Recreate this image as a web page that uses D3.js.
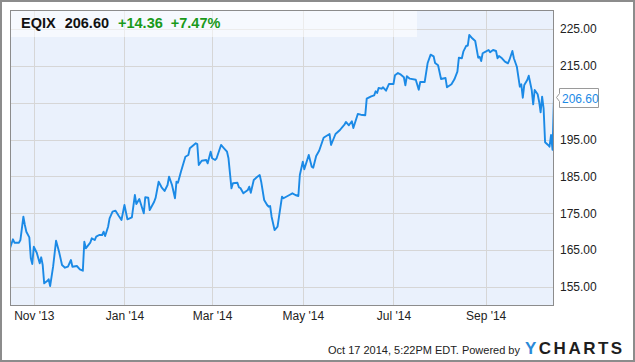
<!DOCTYPE html>
<html>
<head>
<meta charset="utf-8">
<script src="https://cdnjs.cloudflare.com/ajax/libs/d3/7.8.5/d3.min.js"></script>
<style>
  body { margin: 0; background: #fff; }
  svg text { font-family: "Liberation Sans", Arial, sans-serif; }
</style>
</head>
<body>
<div class="chart"></div>
<script>
// EQIX daily closes, Oct 16 2013 - Oct 17 2014
var dates = [
  "2013-10-16","2013-10-18","2013-10-19","2013-10-22","2013-10-23","2013-10-25","2013-10-26","2013-10-27","2013-10-29","2013-10-30",
  "2013-10-31","2013-11-01","2013-11-03","2013-11-05","2013-11-06","2013-11-07","2013-11-08","2013-11-10","2013-11-11","2013-11-12",
  "2013-11-14","2013-11-16","2013-11-18","2013-11-20","2013-11-22","2013-11-24","2013-11-26","2013-11-27","2013-11-30","2013-12-02",
  "2013-12-04","2013-12-05","2013-12-06","2013-12-09","2013-12-10","2013-12-12","2013-12-13","2013-12-15","2013-12-17","2013-12-18",
  "2013-12-19","2013-12-21","2013-12-22","2013-12-24","2013-12-26","2013-12-28","2013-12-30","2014-01-01","2014-01-03","2014-01-06",
  "2014-01-08","2014-01-09","2014-01-11","2014-01-14","2014-01-15","2014-01-17","2014-01-18","2014-01-21","2014-01-22","2014-01-24",
  "2014-01-26","2014-01-28","2014-01-30","2014-01-31","2014-02-02","2014-02-04","2014-02-05","2014-02-06","2014-02-08","2014-02-11",
  "2014-02-13","2014-02-14","2014-02-18","2014-02-19","2014-02-20","2014-02-22","2014-02-25","2014-02-26","2014-02-28","2014-03-01",
  "2014-03-03","2014-03-04","2014-03-07","2014-03-09","2014-03-11","2014-03-12","2014-03-14","2014-03-15","2014-03-18","2014-03-19",
  "2014-03-20","2014-03-22","2014-03-25","2014-03-26","2014-03-27","2014-03-29","2014-03-31","2014-04-02","2014-04-03","2014-04-05",
  "2014-04-07","2014-04-08","2014-04-09","2014-04-10","2014-04-12","2014-04-14","2014-04-15","2014-04-17","2014-04-18","2014-04-22",
  "2014-04-24","2014-04-26","2014-04-28","2014-04-29","2014-05-01","2014-05-02","2014-05-05","2014-05-07","2014-05-08","2014-05-10",
  "2014-05-12","2014-05-15","2014-05-16","2014-05-19","2014-05-20","2014-05-23","2014-05-26","2014-05-28","2014-05-29","2014-05-30",
  "2014-06-01","2014-06-03","2014-06-04","2014-06-07","2014-06-09","2014-06-12","2014-06-13","2014-06-16","2014-06-18","2014-06-19",
  "2014-06-20","2014-06-21","2014-06-23","2014-06-24","2014-06-26","2014-06-28","2014-07-01","2014-07-02","2014-07-04","2014-07-06",
  "2014-07-08","2014-07-09","2014-07-10","2014-07-12","2014-07-16","2014-07-18","2014-07-19","2014-07-22","2014-07-24","2014-07-26",
  "2014-07-28","2014-07-29","2014-07-31","2014-08-02","2014-08-05","2014-08-06","2014-08-09","2014-08-11","2014-08-13","2014-08-14",
  "2014-08-16","2014-08-17","2014-08-19","2014-08-20","2014-08-21","2014-08-23","2014-08-25","2014-08-27","2014-08-28","2014-08-29",
  "2014-08-30","2014-09-01","2014-09-03","2014-09-04","2014-09-06","2014-09-08","2014-09-09","2014-09-10","2014-09-12","2014-09-14",
  "2014-09-16","2014-09-17","2014-09-19","2014-09-20","2014-09-22","2014-09-24","2014-09-25","2014-09-26","2014-09-27","2014-09-29",
  "2014-09-30","2014-10-02","2014-10-03","2014-10-04","2014-10-06","2014-10-07","2014-10-08","2014-10-09","2014-10-10","2014-10-11",
  "2014-10-13","2014-10-14","2014-10-15","2014-10-16","2014-10-17"
];
var prices = [
  165.50,167.94,167.02,167.02,167.75,174.07,171.82,170.00,168.48,162.79,
  161.24,165.93,164.30,161.43,163.06,160.97,156.00,156.63,157.09,155.27,
  160.51,167.56,164.58,160.97,160.24,160.51,162.33,160.51,160.70,159.80,
  159.42,167.29,165.50,167.02,168.21,167.75,168.65,169.11,169.11,170.00,
  168.84,171.36,173.64,175.43,175.70,174.40,173.18,177.25,173.37,173.91,
  179.96,177.52,178.88,175.00,179.34,179.23,175.89,178.14,179.23,183.57,
  182.05,181.05,182.67,184.93,182.67,179.07,183.57,183.30,186.28,190.35,
  190.81,192.63,193.99,193.80,188.10,189.27,189.46,188.56,191.71,189.92,
  189.46,189.92,193.53,192.63,191.71,189.92,181.78,183.14,183.30,182.05,
  181.86,180.42,181.32,182.21,180.58,184.03,184.76,185.39,183.57,178.60,
  177.25,176.79,176.98,174.07,170.46,171.36,174.07,179.50,179.07,179.96,
  180.42,179.96,179.69,185.39,189.00,186.93,190.81,187.64,187.37,190.54,
  191.98,195.51,195.78,196.51,193.53,196.51,197.60,198.60,199.03,199.77,
  198.87,199.96,198.14,201.94,201.75,201.58,206.09,206.74,207.01,208.10,
  207.64,208.99,208.80,209.18,208.26,210.08,210.08,212.44,213.06,212.60,
  211.90,209.72,212.17,211.52,211.24,208.53,210.62,210.62,215.78,218.03,
  217.59,215.78,215.15,211.43,211.71,209.18,210.00,211.35,213.41,217.21,
  217.05,218.84,220.47,220.47,223.37,222.48,221.74,217.21,217.48,216.32,
  218.41,218.84,219.30,218.68,219.30,219.03,217.05,217.67,217.05,216.13,
  215.69,216.59,219.03,217.05,214.77,209.34,210.00,206.36,209.81,211.16,
  212.33,208.45,204.57,208.45,207.28,205.27,202.40,206.63,203.48,194.26,
  193.53,193.07,196.24,192.24,206.60
];
var yTicks = [155, 165, 175, 185, 195, 205, 215, 225];
var xTicks = ["2013-11-01","2014-01-01","2014-03-01","2014-05-01","2014-07-01","2014-09-01"];
var ticker = "EQIX";
var lastPrice = "206.60";
var change = "+14.36";
var changePct = "+7.47%";
var stamp = "Oct 17 2014, 5:22PM EDT.";

var W = 635, H = 362;
var pL = 10, pR = 554, pT = 10, pB = 306;
var blue = "#1b8ae6";

var parse = d3.timeParse("%Y-%m-%d");
var data = dates.map(function(d, i){ return {date: parse(d), value: prices[i]}; });

var svg = d3.select(".chart").append("svg").attr("width", W).attr("height", H);

var x = d3.scaleTime()
  .domain([parse("2013-10-16"), parse("2014-10-17")])
  .range([pL, pR]);
var y = d3.scaleLinear()
  .domain([149.85, 230.15])
  .range([pB, pT]);

// outer frame
svg.append("rect").attr("x", 1).attr("y", 1).attr("width", W - 2).attr("height", H - 2)
  .attr("fill", "#fff").attr("stroke", "#8c8c8c").attr("stroke-width", 2);

// plot background
svg.append("rect").attr("x", pL).attr("y", pT).attr("width", pR - pL).attr("height", pB - pT)
  .attr("fill", "#eaf1fc");

// grid
svg.append("g").selectAll("line").data(yTicks).enter().append("line")
  .attr("x1", pL).attr("x2", pR)
  .attr("y1", function(d){ return Math.round(y(d)) + 0.5; })
  .attr("y2", function(d){ return Math.round(y(d)) + 0.5; })
  .attr("stroke", "#d6d6d6");
svg.append("g").selectAll("line").data(xTicks).enter().append("line")
  .attr("y1", pT).attr("y2", pB)
  .attr("x1", function(d){ return Math.round(x(parse(d))) + 0.5; })
  .attr("x2", function(d){ return Math.round(x(parse(d))) + 0.5; })
  .attr("stroke", "#d6d6d6");

// header band
svg.append("rect").attr("x", pL).attr("y", pT).attr("width", 407).attr("height", 27)
  .attr("fill", "#fff").attr("opacity", 0.55);

// price line
svg.append("clipPath").attr("id", "clip").append("rect")
  .attr("x", pL).attr("y", pT).attr("width", pR - pL).attr("height", pB - pT);
var line = d3.line()
  .x(function(d){ return x(d.date); })
  .y(function(d){ return y(d.value); });
svg.append("path").datum(data)
  .attr("clip-path", "url(#clip)")
  .attr("d", line)
  .attr("fill", "none")
  .attr("stroke", blue)
  .attr("stroke-width", 1.9)
  .attr("stroke-linejoin", "round");

// plot border
svg.append("rect").attr("x", pL + 0.5).attr("y", pT + 0.5).attr("width", pR - pL - 1).attr("height", pB - pT - 1)
  .attr("fill", "none").attr("stroke", "#8c8c8c");

// axes
var yLast = y(+lastPrice);
var yAxis = d3.axisRight(y).tickValues(yTicks.filter(function(d){ return Math.abs(y(d) - yLast) > 12; }))
  .tickFormat(d3.format(".2f")).tickSize(0).tickPadding(6);
svg.append("g").attr("transform", "translate(" + pR + ",0)").call(yAxis)
  .call(function(g){ g.select(".domain").remove(); })
  .selectAll("text").attr("font-size", 12).attr("fill", "#222").attr("font-family", "Liberation Sans, Arial, sans-serif");

var xAxis = d3.axisBottom(x).tickValues(xTicks.map(parse))
  .tickFormat(d3.timeFormat("%b '%y")).tickSize(0).tickPadding(5);
svg.append("g").attr("transform", "translate(0," + pB + ")").call(xAxis)
  .call(function(g){ g.select(".domain").remove(); })
  .selectAll("text").attr("font-size", 12).attr("fill", "#222").attr("font-family", "Liberation Sans, Arial, sans-serif");

// last price flag
var fy = Math.round(yLast);
var flag = svg.append("g");
flag.append("path")
  .attr("d", "M" + (pR + 2.5) + "," + (fy + 0.5) + " L" + (pR + 5.5) + "," + (fy - 3.5) + " L" + (pR + 5.5) + "," + (fy - 8.5) +
    " L" + (pR + 44.5) + "," + (fy - 8.5) + " L" + (pR + 44.5) + "," + (fy + 10.5) + " L" + (pR + 5.5) + "," + (fy + 10.5) +
    " L" + (pR + 5.5) + "," + (fy + 4.5) + " Z")
  .attr("fill", "#fff").attr("stroke", "#9a9a9a");
flag.append("text").attr("x", pR + 8).attr("y", fy + 5.5)
  .attr("font-size", 12).attr("fill", blue).text(lastPrice);

// header text
var head = svg.append("text").attr("x", 21).attr("y", 28).attr("font-size", 14.5).attr("font-weight", "bold");
head.append("tspan").attr("fill", "#111").text(ticker);
head.append("tspan").attr("fill", "#111").attr("dx", 9).text(lastPrice);
head.append("tspan").attr("fill", "#1a9a1a").attr("dx", 9).text(change);
head.append("tspan").attr("fill", "#1a9a1a").attr("dx", 8).text(changePct);

// footer
svg.append("text").attr("x", 520).attr("y", 354).attr("text-anchor", "end")
  .attr("font-size", 11).attr("fill", "#222").text(stamp + " Powered by");
var logo = svg.append("text").attr("x", 525).attr("y", 354).attr("font-size", 17)
  .attr("font-weight", "bold").attr("letter-spacing", 2.5);
logo.append("tspan").attr("fill", "#2a8ad8").text("Y");
logo.append("tspan").attr("fill", "#1e1e1e").text("CHARTS");
</script>
</body>
</html>
